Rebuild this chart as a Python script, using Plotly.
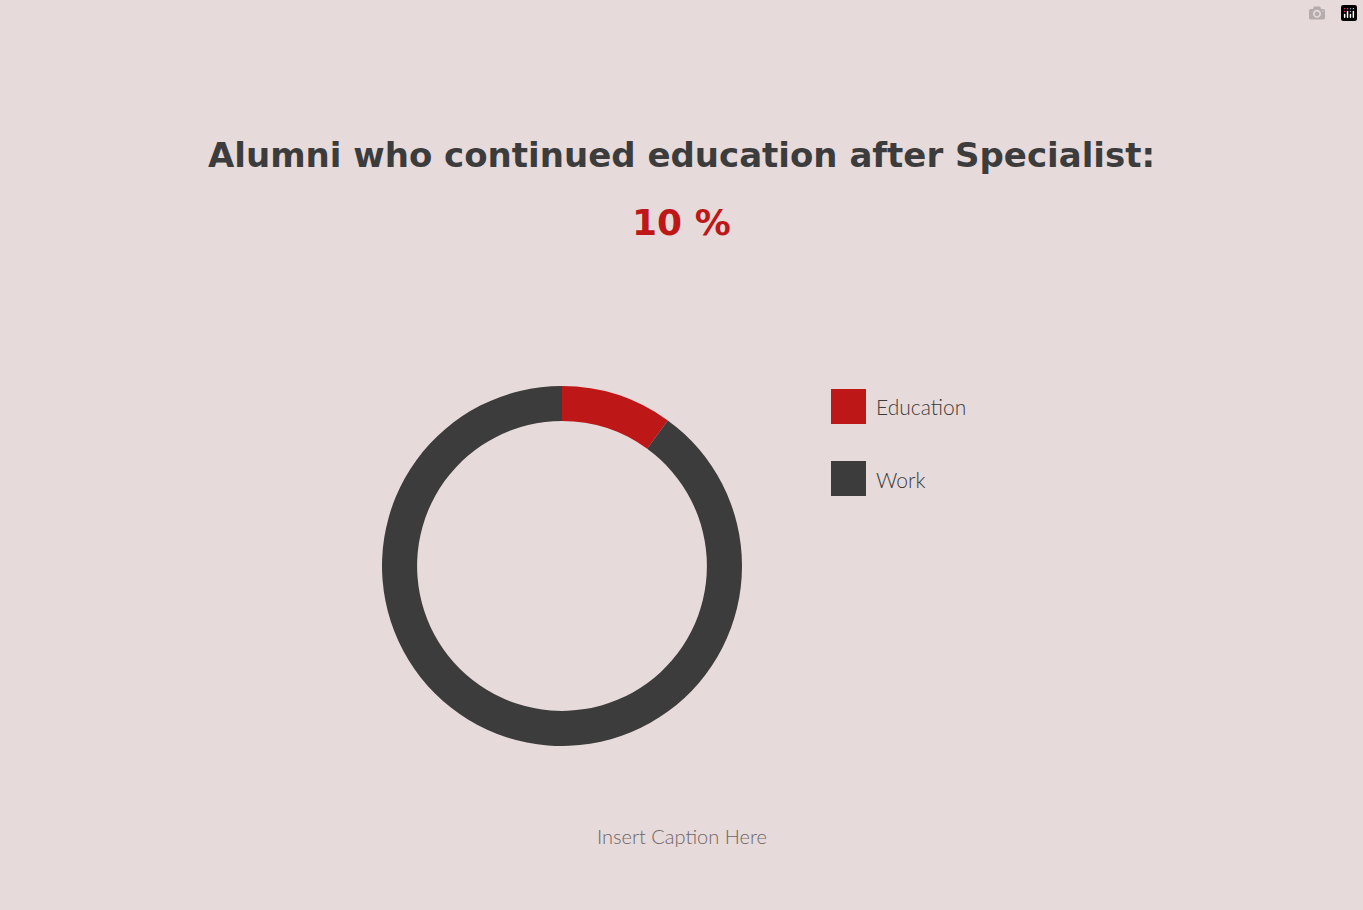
import plotly.graph_objects as go

labels = ["Education", "Work"]
values = [10, 90]
colors = ["#BE1717", "#3C3C3C"]
title_text = "Alumni who continued education after Specialist:"
pct_text = "10 %"
caption = "Insert Caption Here"

W, H = 1363, 910
fig = go.Figure(go.Pie(
    labels=labels, values=values, hole=0.805, sort=False, direction="clockwise",
    rotation=0, marker=dict(colors=colors, line=dict(width=0)),
    textinfo="none", hoverinfo="label+percent", showlegend=False,
    domain=dict(x=[(562-180)/W, (562+180)/W], y=[(910-746)/H, (910-386)/H]),
))

shapes, annos = [], []
for i, (lab, col) in enumerate(zip(labels, colors)):
    top = 389 + i*72
    shapes.append(dict(type="rect", xref="paper", yref="paper",
                       x0=831/W, x1=866/W, y0=1-(top+35)/H, y1=1-top/H,
                       fillcolor=col, line=dict(width=0)))
    annos.append(dict(x=874/W, y=1-(top+18)/H, xref="paper", yref="paper",
                      text=lab, showarrow=False, xanchor="left", yanchor="middle",
                      font=dict(family="Lato", size=21, color="#3C3C3C", weight=300)))
annos += [
    dict(x=0.5, y=1-155/H, xref="paper", yref="paper", text=f"<b>{title_text}</b>",
         showarrow=False, yanchor="middle",
         font=dict(family="DejaVu Sans", size=34, color="#3C3C3C")),
    dict(x=0.5, y=1-222/H, xref="paper", yref="paper", text=f"<b>{pct_text}</b>",
         showarrow=False, yanchor="middle",
         font=dict(family="DejaVu Sans", size=36, color="#BE1717")),
    dict(x=0.5, y=1-836/H, xref="paper", yref="paper", text=caption,
         showarrow=False, yanchor="middle",
         font=dict(family="Lato", size=20, color="#6E6666", weight=300)),
]
fig.update_layout(width=W, height=H, margin=dict(l=0, r=0, t=0, b=0),
                  paper_bgcolor="#E6DADA", plot_bgcolor="#E6DADA",
                  shapes=shapes, annotations=annos)
fig.write_html("out.html", post_script="document.body.style.margin='0';")
